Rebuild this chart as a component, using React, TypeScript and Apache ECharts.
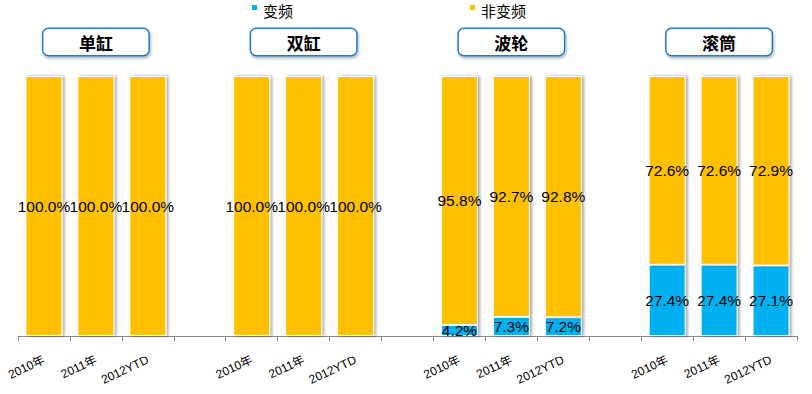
import React, { useEffect, useRef } from "react";
import * as echarts from "echarts";

const categories = [
  "2010年", "2011年", "2012YTD", "",
  "2010年", "2011年", "2012YTD", "",
  "2010年", "2011年", "2012YTD", "",
  "2010年", "2011年", "2012YTD",
];
const groupNames = ["单缸", "双缸", "波轮", "滚筒"];
const groupCenterIndex = [1, 5, 9, 13];
const seriesNames = ["变频", "非变频"];
const inverterValues = [0, 0, 0, null, 0, 0, 0, null, 4.2, 7.3, 7.2, null, 27.4, 27.4, 27.1];
const nonInverterValues = [100, 100, 100, null, 100, 100, 100, null, 95.8, 92.7, 92.8, null, 72.6, 72.6, 72.9];

const FONT = "'Liberation Sans', Arial, 'Noto Sans CJK SC', sans-serif";

export default function App() {
  const ref = useRef<HTMLDivElement>(null);
  useEffect(() => {
    document.body.style.margin = "0";
    if (!ref.current) return;
    const chart = echarts.init(ref.current, null, { renderer: "svg" });
    const topData = categories.map((_, i) => {
      const g = groupCenterIndex.indexOf(i);
      return g >= 0 ? groupNames[g] : "";
    });
    const barLabel = {
      show: true,
      position: "inside",
      color: "#000",
      fontSize: 15.5,
      fontFamily: FONT,
      formatter: (p: any) => (p.value ? Number(p.value).toFixed(1) + "%" : ""),
    };
    const itemBase = {
      borderColor: "#fff",
      borderWidth: 1,
      shadowColor: "rgba(0,0,0,0.35)",
      shadowBlur: 3,
      shadowOffsetX: 2,
      shadowOffsetY: 0,
    };
    chart.setOption({
      animation: false,
      backgroundColor: "#fff",
      legend: {
        left: 250,
        top: 3,
        padding: 0,
        icon: "path://M0,0L7,0L7,7L0,7Z M0,15L0.05,15L0.05,15.05Z",
        itemWidth: 7,
        itemHeight: 15,
        itemGap: 175,
        textStyle: { fontSize: 15, color: "#000", fontFamily: FONT },
        data: seriesNames,
      },
      grid: { left: 18, right: 15, top: 76, bottom: 58 },
      xAxis: [
        {
          type: "category",
          data: categories,
          axisLine: { lineStyle: { color: "#888", width: 1 } },
          axisTick: { show: true, length: 5, lineStyle: { color: "#888" } },
          axisLabel: {
            rotate: 25,
            interval: 0,
            margin: 23,
            fontSize: 12,
            color: "#000",
            fontFamily: FONT,
          },
        },
        {
          type: "category",
          position: "top",
          data: topData,
          axisLine: { show: false },
          axisTick: { show: false },
          axisLabel: {
            interval: (_i: number, v: string) => v !== "",
            margin: 34,
            fontSize: 17,
            fontWeight: "bold",
            color: "#000",
            fontFamily: "'Noto Sans CJK SC', sans-serif",
            backgroundColor: "#fff",
            borderColor: "#1F7ACF",
            borderWidth: 1.5,
            borderRadius: 5,
            width: 105,
            height: 26,
            lineHeight: 26,
            align: "center",
            verticalAlign: "middle",
            shadowColor: "rgba(0,0,0,0.3)",
            shadowBlur: 3,
            shadowOffsetX: 1,
            shadowOffsetY: 2,
          },
        },
      ],
      yAxis: {
        type: "value",
        min: 0,
        max: 100,
        show: false,
        splitLine: { show: false },
      },
      series: [
        {
          name: seriesNames[0],
          type: "bar",
          stack: "total",
          xAxisIndex: 0,
          barWidth: 37,
          data: inverterValues,
          itemStyle: { ...itemBase, color: "#00B0F0" },
          label: barLabel,
        },
        {
          name: seriesNames[1],
          type: "bar",
          stack: "total",
          xAxisIndex: 0,
          barWidth: 37,
          data: nonInverterValues,
          itemStyle: { ...itemBase, color: "#FFC000" },
          label: barLabel,
        },
      ],
    });
    return () => chart.dispose();
  }, []);
  return <div ref={ref} style={{ width: 812, height: 394 }} />;
}
